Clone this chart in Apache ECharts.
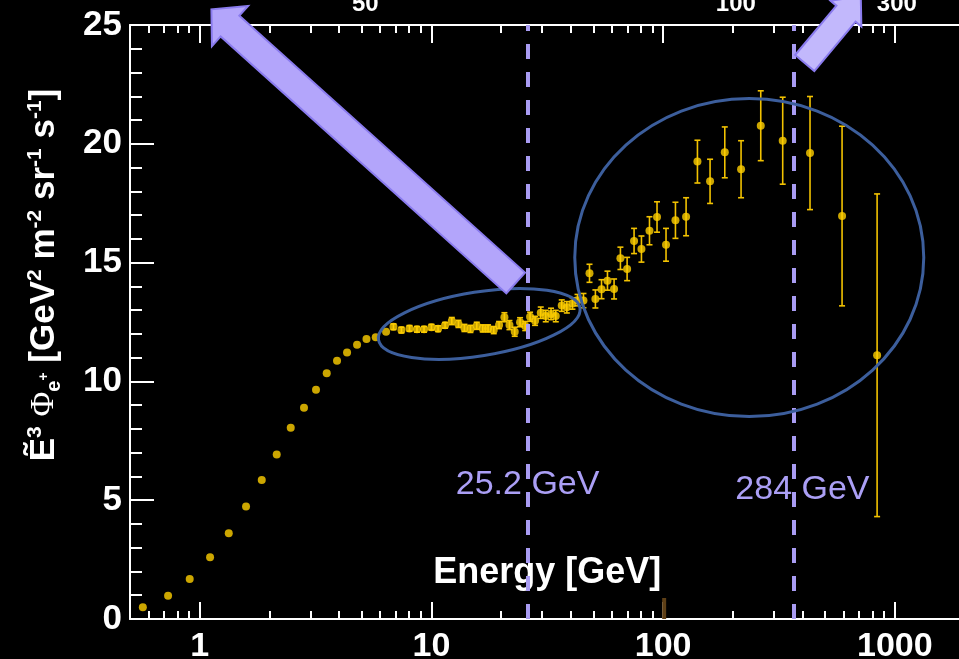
<!DOCTYPE html>
<html><head><meta charset="utf-8">
<script src="https://cdn.jsdelivr.net/npm/echarts@6/dist/echarts.min.js"></script>
<style>html,body{margin:0;padding:0;background:#000;overflow:hidden}#c{width:959px;height:659px}</style>
</head><body><div id="c"></div>
<script>
// ---- data ----
const energy = [0.568, 0.730, 0.905, 1.108, 1.334, 1.584, 1.852, 2.149, 2.47, 2.818, 3.175, 3.532, 3.913, 4.323, 4.775, 5.243, 5.748, 6.37,
  6.855, 7.42, 8.04, 8.66, 9.29, 10.0, 10.68, 11.45, 12.24, 13.08, 13.88, 14.73, 15.69, 16.65, 17.55, 18.57, 19.58, 20.65, 21.71, 22.88, 24.12, 25.40,
  26.65, 28.0, 29.63, 31.14, 32.82, 34.4, 36.5, 38.4, 40.6, 42.7,
  45.3, 48.1, 51.0, 54.2, 57.5, 61.4, 65.4, 69.9, 74.9, 80.6, 87.3, 94.1, 102.9, 113.0, 125.6,
  140.6, 159.4, 184.5, 216.9, 263.8, 328.1, 430.4, 591.8, 838.3];
const flux = [0.49, 0.98, 1.68, 2.60, 3.61, 4.73, 5.85, 6.92, 8.05, 8.89, 9.65, 10.34, 10.87, 11.22, 11.54, 11.78, 11.86, 12.09,
  12.30, 12.16, 12.23, 12.19, 12.19, 12.28, 12.22, 12.36, 12.54, 12.42, 12.25, 12.21, 12.34, 12.23, 12.23, 12.16, 12.37, 12.70, 12.37, 12.09, 12.49, 12.33,
  12.72, 12.55, 12.89, 12.75, 12.84, 12.75, 13.19, 13.12, 13.28, 13.42,
  13.40, 14.55, 13.47, 13.88, 14.24, 13.89, 15.18, 14.73, 15.91, 15.57, 16.34, 16.92, 15.75, 16.78, 16.93,
  19.25, 18.42, 19.64, 18.93, 20.76, 20.13, 19.61, 16.96, 11.10];
const fluxErr = [0, 0, 0, 0, 0, 0, 0, 0, 0, 0, 0, 0, 0, 0, 0, 0, 0, 0,
  0.12, 0.12, 0.12, 0.12, 0.12, 0.12, 0.12, 0.12, 0.15, 0.15, 0.15, 0.15, 0.15, 0.15, 0.15, 0.15, 0.15, 0.19, 0.19, 0.19, 0.19, 0.19,
  0.19, 0.19, 0.24, 0.24, 0.24, 0.24, 0.24, 0.24, 0.24, 0.24,
  0.30, 0.38, 0.38, 0.40, 0.40, 0.42, 0.47, 0.49, 0.53, 0.55, 0.59, 0.64, 0.69, 0.76, 0.80,
  0.90, 0.93, 1.07, 1.20, 1.47, 1.83, 2.38, 3.78, 6.79];
const majorTicks = [1, 10, 100, 1000];
const minorTicks = [0.6, 0.7, 0.8, 0.9, 2, 3, 4, 5, 6, 7, 8, 9, 20, 30, 40, 50, 60, 70, 80, 90, 200, 300, 400, 500, 600, 700, 800, 900];
const markerEnergy = [26.0, 365];
const markerLabels = ['25.2 GeV', '284 GeV'];
const topLabelEnergy = [5.18, 206, 1020];
const topLabels = ['50', '100', '300'];

// ---- chart ----
const FONT = '"Liberation Sans", Arial, Helvetica, sans-serif';
const WHITE = '#ffffff';
const LAV = '#ab9ff5';
const chart = echarts.init(document.getElementById('c'), null, {renderer: 'canvas', width: 959, height: 659});

function logAxis(pos, ticks, len, showLine, showLabel) {
  return {
    type: 'log', logBase: 10, min: 0.5, max: 2000, position: pos, gridIndex: 0,
    axisLine: {show: showLine, onZero: false, lineStyle: {color: WHITE, width: 2}},
    axisTick: {show: true, inside: true, length: len, customValues: ticks, lineStyle: {color: WHITE, width: 2}},
    axisLabel: showLabel ? {show: true, customValues: ticks, color: WHITE, fontSize: 34, fontWeight: 'bold', fontFamily: FONT, margin: 11,
      formatter: v => String(Math.round(v))} : {show: false},
    splitLine: {show: false}, minorTick: {show: false}, minorSplitLine: {show: false}
  };
}
const xMain = logAxis('bottom', majorTicks, 17, true, true);
xMain.name = 'Energy [GeV]';
xMain.nameLocation = 'middle';
xMain.nameGap = -46;
xMain.nameMoveOverlap = false;
xMain.nameTextStyle = {color: WHITE, fontSize: 36, fontWeight: 'bold', fontFamily: FONT, verticalAlign: 'middle'};

const errData = energy.map((e, i) => [e, flux[i], fluxErr[i]]).filter(d => d[2] > 0);

const option = {
  backgroundColor: '#000000',
  animation: false,
  grid: {left: 130, top: 25, width: 834.6, height: 594, containLabel: false, outerBoundsMode: 'none', show: false},
  xAxis: [
    xMain,
    logAxis('bottom', minorTicks, 8, false, false),
    logAxis('top', majorTicks, 18, true, false),
    logAxis('top', minorTicks, 8, false, false)
  ],
  yAxis: [{
    type: 'value', min: 0, max: 25, interval: 5, position: 'left',
    axisLine: {show: true, lineStyle: {color: WHITE, width: 2}},
    axisTick: {show: true, inside: true, length: 24, lineStyle: {color: WHITE, width: 2}},
    minorTick: {show: true, splitNumber: 5, length: 12, lineStyle: {color: WHITE, width: 2}},
    axisLabel: {color: WHITE, fontSize: 35, fontWeight: 'bold', fontFamily: FONT, margin: 8},
    splitLine: {show: false}
  }],
  series: [
    {
      type: 'custom', name: 'err', xAxisIndex: 0, yAxisIndex: 0, z: 3,
      data: errData, encode: {x: 0, y: 1},
      renderItem: function (params, api) {
        const e = api.value(0), v = api.value(1), er = api.value(2);
        const t = api.coord([e, v + er]);
        const b = api.coord([e, v - er]);
        const cw = 3;
        const st = {stroke: '#f2c200', lineWidth: 1.6};
        return {type: 'group', children: [
          {type: 'line', shape: {x1: t[0], y1: t[1], x2: b[0], y2: b[1]}, style: st},
          {type: 'line', shape: {x1: t[0] - cw, y1: t[1], x2: t[0] + cw, y2: t[1]}, style: st},
          {type: 'line', shape: {x1: b[0] - cw, y1: b[1], x2: b[0] + cw, y2: b[1]}, style: st}
        ]};
      },
      markLine: {
        silent: true, symbol: ['none', 'none'], label: {show: false},
        lineStyle: {color: '#a99cf3', width: 4, type: [15, 13]},
        data: markerEnergy.map(e => ({xAxis: e}))
      }
    },
    {
      type: 'scatter', name: 'flux', xAxisIndex: 0, yAxisIndex: 0, z: 4,
      symbol: 'circle', symbolSize: 8,
      itemStyle: {color: '#ffd000'},
      data: energy.map((e, i) => [e, flux[i]])
    }
  ]
};
chart.setOption(option);

// ---- annotations (positioned through the chart's scales) ----
const px = (e, v) => chart.convertToPixel({seriesIndex: 1}, [e, v]);

function arrowPoints(tail, tip, shaftHalf, headHalf, headLen) {
  const dx = tip[0] - tail[0], dy = tip[1] - tail[1];
  const L = Math.hypot(dx, dy);
  const ux = dx / L, uy = dy / L, nx = -uy, ny = ux;
  const bx = tip[0] - ux * headLen, by = tip[1] - uy * headLen;
  return [
    [tail[0] + nx * shaftHalf, tail[1] + ny * shaftHalf],
    [bx + nx * shaftHalf, by + ny * shaftHalf],
    [bx + nx * headHalf, by + ny * headHalf],
    [tip[0], tip[1]],
    [bx - nx * headHalf, by - ny * headHalf],
    [bx - nx * shaftHalf, by - ny * shaftHalf],
    [tail[0] - nx * shaftHalf, tail[1] - ny * shaftHalf]
  ];
}

const graphics = [];
// ellipses
const e1 = px(16.08, 12.42);
graphics.push({type: 'ellipse', z: 10, x: e1[0], y: e1[1], rotation: 9 * Math.PI / 180,
  shape: {cx: 0, cy: 0, rx: 102, ry: 32}, style: {fill: 'none', stroke: '#3c5e9c', lineWidth: 3}});
const e2 = px(235.3, 15.21);
graphics.push({type: 'ellipse', z: 10, shape: {cx: e2[0], cy: e2[1], rx: 174.5, ry: 159},
  style: {fill: 'none', stroke: '#3c5e9c', lineWidth: 3}});
// marker labels
markerEnergy.forEach((e, i) => {
  const p = px(e, i === 0 ? 5.64 : 5.43);
  graphics.push({type: 'text', z: 11, x: p[0] + (i === 0 ? 0 : 9), y: p[1],
    style: {text: markerLabels[i], fill: LAV, font: 'normal 34px ' + FONT, align: 'center', verticalAlign: 'middle'}});
});
// top labels
topLabelEnergy.forEach((e, i) => {
  const p = px(e, 25.88);
  graphics.push({type: 'text', z: 11, x: p[0], y: p[1],
    style: {text: topLabels[i], fill: WHITE, font: 'bold 24px ' + FONT, align: 'center', verticalAlign: 'middle'}});
});
// small brown mark at 100 GeV
const bm = px(100, 0);
graphics.push({type: 'rect', z: 2, shape: {x: bm[0] - 1, y: bm[1] - 21, width: 4, height: 21}, style: {fill: '#5e3f16'}});
// arrows
const a1 = arrowPoints(px(23.1, 14.14), px(1.123, 25.66), 14, 27, 25);
graphics.push({type: 'polygon', z: 20, shape: {points: a1}, style: {fill: '#b3a5fb', stroke: '#8a7bee', lineWidth: 2}});
const a2 = arrowPoints(px(408.3, 23.40), px(712.7, 26.22), 12.5, 20, 23);
graphics.push({type: 'polygon', z: 20, shape: {points: a2}, style: {fill: '#c2b8fc', stroke: '#8a7bee', lineWidth: 2}});
// y-axis title
graphics.push({type: 'text', z: 11, x: 44, y: 275, rotation: Math.PI / 2,
  style: {
    text: '{b|Ẽ}{sup|3}{b| }{phi|Φ}{sub|e}{subp|+}{b| [GeV}{sup|2}{b| m}{sup|-2}{b| sr}{sup|-1}{b| s}{sup|-1}{b|]}',
    align: 'center', verticalAlign: 'middle', fill: WHITE,
    rich: {
      b: {fontSize: 35, fontWeight: 'bold', fontFamily: FONT, fill: WHITE, lineHeight: 40, verticalAlign: 'middle'},
      sup: {fontSize: 21, fontWeight: 'bold', fontFamily: FONT, fill: WHITE, lineHeight: 21, verticalAlign: 'top', padding: [1, 0, 0, 0]},
      phi: {fontSize: 34, fontWeight: 'normal', fontFamily: '"Liberation Serif", "DejaVu Serif", serif', fill: WHITE, lineHeight: 40, verticalAlign: 'middle'},
      sub: {fontSize: 20, fontWeight: 'bold', fontFamily: FONT, fill: WHITE, lineHeight: 20, verticalAlign: 'bottom'},
      subp: {fontSize: 14, fontWeight: 'bold', fontFamily: FONT, fill: WHITE, lineHeight: 14, verticalAlign: 'bottom', padding: [0, 0, 13, 0]}
    }
  }});
chart.setOption({graphic: graphics});
</script>
</body></html>
